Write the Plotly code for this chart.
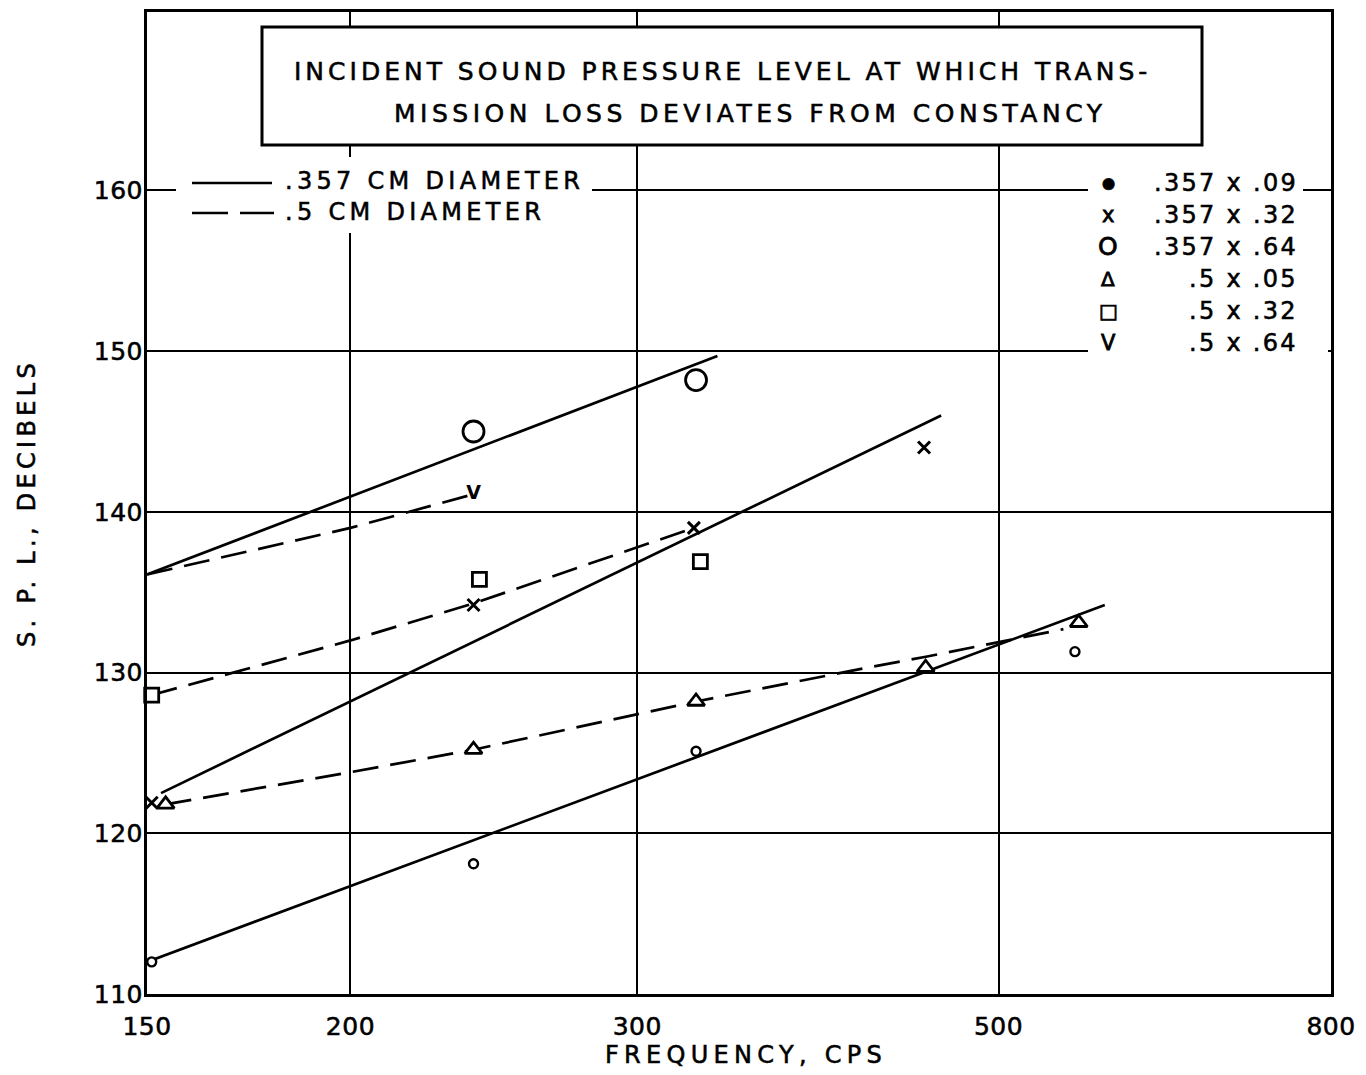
import math
import plotly.graph_objects as go

FONT = "DejaVu Sans"
INK = "black"

# Measured points: frequency (cps) and incident S.P.L. (dB)
freq_357_09 = [151, 238, 326, 557]
spl_357_09 = [112.0, 118.1, 125.1, 131.3]

freq_357_32 = [151, 238, 325, 450]
spl_357_32 = [121.9, 134.2, 139.0, 144.0]

freq_357_64 = [150, 238, 326]
spl_357_64 = [136.1, 145.0, 148.2]

freq_5_05 = [154, 238, 326, 451, 560]
spl_5_05 = [121.8, 125.2, 128.2, 130.3, 133.1]

freq_5_32 = [151, 240, 328]
spl_5_32 = [128.6, 135.8, 136.9]

freq_5_64 = [150, 238]
spl_5_64 = [136.1, 141.1]

# Faired curves: .357 cm diameter (solid)
fit_357_a_f = [150, 336]
fit_357_a_s = [136.1, 149.7]
fit_357_b_f = [153, 461]
fit_357_b_s = [122.5, 146.0]
fit_357_c_f = [150, 581]
fit_357_c_s = [112.0, 134.2]

# Faired curves: .5 cm diameter (dashed)
fit_5_a_f = [150, 200, 238]
fit_5_a_s = [136.1, 139.0, 141.1]
fit_5_b_f = [151, 200, 238, 325]
fit_5_b_s = [128.6, 132.0, 134.3, 139.0]
fit_5_c_f = [154, 200, 238, 326, 415, 452, 548]
fit_5_c_s = [121.8, 123.8, 125.2, 128.2, 130.3, 131.0, 132.7]

x_ticks = [150, 200, 300, 500, 800]
y_ticks = [110, 120, 130, 140, 150, 160]

legend_syms = ["\u25cf", "x", "O", "\u0394", "\u25a1", "V"]
legend_labels = [".357 x .09", ".357 x .32", ".357 x .64", ".5 x .05", ".5 x .32", ".5 x .64"]
legend_sym_sizes = [15, 21, 25, 20, 20, 21]

title_1 = "INCIDENT SOUND PRESSURE LEVEL AT WHICH TRANS-"
title_2 = "MISSION LOSS DEVIATES FROM CONSTANCY"

# plot-area geometry in page pixels
W, H = 1366, 1075
L, R, T, B = 147, 1331, 12, 994


def px(x):
    return (x - L) / (R - L)


def py(y):
    return (B - y) / (B - T)


def spaced(s, sp=0.0, weight=0.55):
    # wide-set, slightly heavier stencil-style lettering
    return (f'<span style="letter-spacing:{sp}px;stroke:{INK};'
            f'stroke-width:{weight}px">{s}</span>')


def lettering(size):
    return dict(family=FONT, size=size, color=INK)


fig = go.Figure()

LW = 2.7
DASH = "26px,12px"

for f, s in [(fit_357_a_f, fit_357_a_s), (fit_357_b_f, fit_357_b_s), (fit_357_c_f, fit_357_c_s)]:
    fig.add_trace(go.Scatter(x=f, y=s, mode="lines", line=dict(color=INK, width=LW),
                             showlegend=False, hoverinfo="skip"))
for f, s in [(fit_5_a_f, fit_5_a_s), (fit_5_b_f, fit_5_b_s), (fit_5_c_f, fit_5_c_s)]:
    fig.add_trace(go.Scatter(x=f, y=s, mode="lines", line=dict(color=INK, width=LW, dash=DASH),
                             showlegend=False, hoverinfo="skip"))


def pts(f, s, symbol, size, lw=2.6):
    fig.add_trace(go.Scatter(
        x=f, y=s, mode="markers", cliponaxis=False, showlegend=False,
        marker=dict(symbol=symbol, size=size, color="white",
                    line=dict(color=INK, width=lw)),
    ))


pts(freq_357_09, spl_357_09, "circle", 9, 2.4)
pts(freq_357_64, spl_357_64, "circle", 21, 2.8)
pts(freq_5_05, spl_5_05, "triangle-up", 15, 2.8)
pts(freq_5_32, spl_5_32, "square", 14, 2.8)
fig.add_trace(go.Scatter(
    x=freq_357_32, y=spl_357_32, mode="markers", cliponaxis=False, showlegend=False,
    marker=dict(symbol="x-thin", size=12, line=dict(color=INK, width=3)),
))
fig.add_trace(go.Scatter(
    x=freq_5_64, y=spl_5_64, mode="text", text=["V"] * len(freq_5_64), cliponaxis=False,
    textfont=dict(family=FONT, size=19, color=INK, weight="bold"), textposition="middle center",
    showlegend=False,
))

shapes = [
    # title box
    dict(type="rect", xref="paper", yref="paper", x0=px(262), x1=px(1202), y0=py(145), y1=py(27),
         fillcolor="white", line=dict(color=INK, width=3), layer="above"),
    # left key background
    dict(type="rect", xref="paper", yref="paper", x0=px(176), x1=px(592), y0=py(233), y1=py(157),
         fillcolor="white", line=dict(width=0), layer="above"),
    # right key background
    dict(type="rect", xref="paper", yref="paper", x0=px(1088), x1=px(1303), y0=py(362), y1=py(160),
         fillcolor="white", line=dict(width=0), layer="above"),
    dict(type="rect", xref="paper", yref="paper", x0=px(1302), x1=px(1328), y0=py(362), y1=py(200),
         fillcolor="white", line=dict(width=0), layer="above"),
    # key line samples
    dict(type="line", xref="paper", yref="paper", x0=px(192), x1=px(272), y0=py(183), y1=py(183),
         line=dict(color=INK, width=LW), layer="above"),
    dict(type="line", xref="paper", yref="paper", x0=px(192), x1=px(274), y0=py(213), y1=py(213),
         line=dict(color=INK, width=LW, dash="36px,12px"), layer="above"),
]

annotations = [
    dict(xref="paper", yref="paper", x=px(292), y=py(72), xanchor="left", yanchor="middle",
         text=spaced(title_1, 4.0), showarrow=False, font=lettering(25)),
    dict(xref="paper", yref="paper", x=px(392), y=py(113), xanchor="left", yanchor="middle",
         text=spaced(title_2, 4.5), showarrow=False, font=lettering(25)),
    dict(xref="paper", yref="paper", x=px(283), y=py(181), xanchor="left", yanchor="middle",
         text=spaced(".357 CM DIAMETER", 4.3), showarrow=False, font=lettering(24)),
    dict(xref="paper", yref="paper", x=px(283), y=py(212), xanchor="left", yanchor="middle",
         text=spaced(".5 CM DIAMETER", 4.3), showarrow=False, font=lettering(24)),
    dict(xref="paper", yref="paper", x=px(746), y=py(1055), xanchor="center", yanchor="middle",
         text=spaced("FREQUENCY, CPS", 5.3), showarrow=False, font=lettering(24)),
]
for i, (sym, lab, ssz) in enumerate(zip(legend_syms, legend_labels, legend_sym_sizes)):
    yy = 183 + 32 * i
    annotations.append(dict(xref="paper", yref="paper", x=px(1108), y=py(yy), xanchor="center",
                            yanchor="middle", text=spaced(sym, 0, 0.8), showarrow=False,
                            font=lettering(ssz)))
    annotations.append(dict(xref="paper", yref="paper", x=px(1300), y=py(yy), xanchor="right",
                            yanchor="middle", text=spaced(lab, 2.3), showarrow=False,
                            font=lettering(24)))

axis_common = dict(
    showgrid=True, gridcolor=INK, gridwidth=2,
    showline=True, linecolor=INK, linewidth=3, mirror=True,
    ticks="", zeroline=False, automargin=False,
    tickfont=lettering(25),
)

fig.update_layout(
    width=W, height=H, autosize=False,
    margin=dict(l=L, r=W - R, t=T, b=H - B, pad=0),
    paper_bgcolor="white", plot_bgcolor="white",
    font=dict(family=FONT, color=INK),
    showlegend=False,
    shapes=shapes, annotations=annotations,
    xaxis=dict(
        type="log", range=[math.log10(150), math.log10(800)],
        tickvals=x_ticks, ticktext=[spaced(str(v), 0.5) for v in x_ticks],
        ticklabelstandoff=8,
        **axis_common,
    ),
    yaxis=dict(
        range=[110, 171.1],
        tickvals=y_ticks, ticktext=[spaced(str(v), 0.5) for v in y_ticks],
        ticklabelstandoff=-4,
        title=dict(text=spaced("S. P. L., DECIBELS", 4.3), font=lettering(24), standoff=52),
        **axis_common,
    ),
)

fig.write_html("out.html")
